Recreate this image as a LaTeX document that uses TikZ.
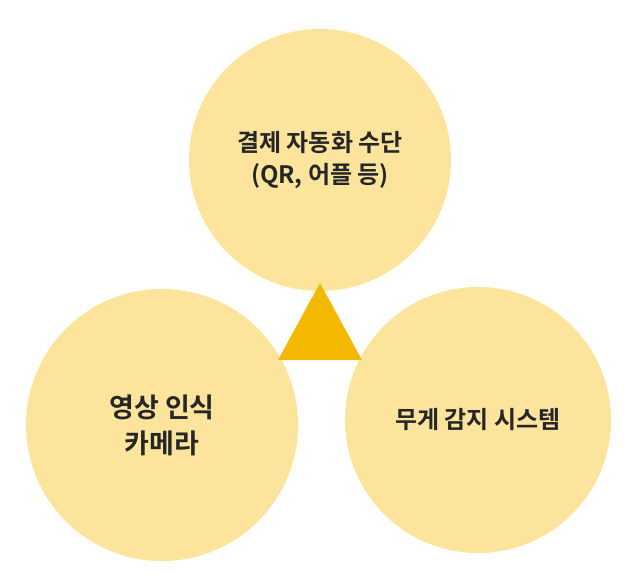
\documentclass[tikz,border=0pt]{standalone}
\usepackage{fontspec}
\newfontfamily\cjk{Noto Sans CJK KR}[BoldFont={Noto Sans CJK KR Bold}]
\definecolor{circ}{HTML}{FDE49C}
\definecolor{tri}{HTML}{F5B800}
\begin{document}
\begin{tikzpicture}[x=1pt,y=-1pt,
  bubble/.style={circle,fill=circ,inner sep=0pt,align=center,font=\cjk\bfseries\fontsize{24}{32}\selectfont,text=black!85}]
\useasboundingbox (0,0) rectangle (637,576);
\node[bubble,minimum size=262] (top) at (320,160) {결제 자동화 수단\\(QR, 어플 등)};
\node[bubble,minimum size=272,font=\cjk\bfseries\fontsize{27}{36}\selectfont] (left) at (162,425) {영상 인식\\카메라};
\node[bubble,minimum size=266] (right) at (478,420) {무게 감지 시스템};
\fill[tri] (320,283) -- (362,360) -- (278,360) -- cycle;
\end{tikzpicture}
\end{document}
